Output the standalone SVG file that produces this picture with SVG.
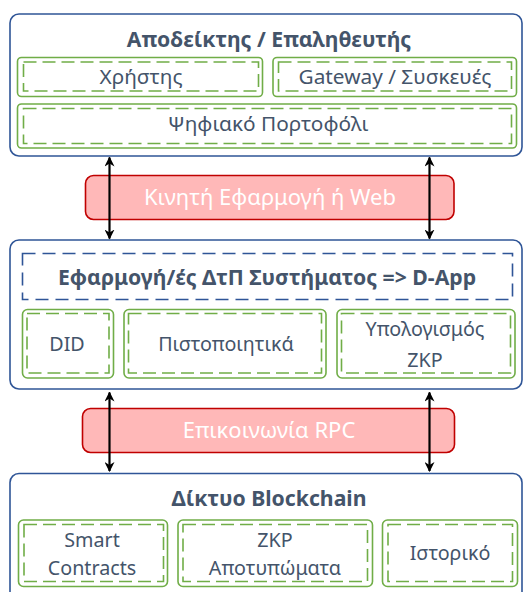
<svg xmlns="http://www.w3.org/2000/svg" width="523" height="592" viewBox="0 0 523 592">
  <style>
    .layer { fill: #ffffff; stroke: #2f5597; stroke-width: 1.6; }
    .card { fill: #ffffff; stroke: #70ad47; stroke-width: 1.6; }
    .dash { fill: none; stroke: #70ad47; stroke-width: 1.6; stroke-dasharray: 13 6; }
    .bluedash { fill: none; stroke: #2f5597; stroke-width: 1.6; stroke-dasharray: 13 7; }
    .band { fill: #ffb8b8; stroke: #c00000; stroke-width: 1.6; }
    .title { font-family: "Noto Sans", "Open Sans", sans-serif; font-weight: bold; font-size: 21.2px; fill: #44546a; text-anchor: middle; }
    .item { font-family: "Noto Sans", "Open Sans", sans-serif; font-size: 19.7px; fill: #44546a; text-anchor: middle; }
    .item.big { font-size: 20.8px; }
    .bandtext { font-family: "Noto Sans", "Open Sans", sans-serif; font-size: 22px; fill: #ffffff; text-anchor: middle; }
    .link { stroke: #000000; stroke-width: 2.2; fill: none; marker-start: url(#head); marker-end: url(#head); }
  </style>
  <defs>
    <marker id="head" viewBox="0 0 10 10" refX="9" refY="5" markerWidth="10" markerHeight="10" markerUnits="userSpaceOnUse" orient="auto-start-reverse">
      <path d="M0,0 L10,5 L0,10 L3,5 z" fill="#000000"/>
    </marker>
  </defs>

  <!-- Prover / verifier layer -->
  <g id="prover">
    <rect class="layer" x="10" y="14" width="512" height="142" rx="9"/>
    <text class="title" x="269" y="47">Αποδείκτης / Επαληθευτής</text>
  </g>
  <g id="user">
    <rect class="card" x="17.5" y="57.5" width="245" height="39" rx="4"/>
    <rect class="dash" x="23.5" y="62" width="235" height="29"/>
    <text class="item big" x="141" y="84">Χρήστης</text>
  </g>
  <g id="gateway">
    <rect class="card" x="273" y="57.5" width="243.5" height="39" rx="4"/>
    <rect class="dash" x="278.5" y="62" width="233" height="29"/>
    <text class="item big" x="395" y="84">Gateway / Συσκευές</text>
  </g>
  <g id="wallet">
    <rect class="card" x="17.5" y="104" width="499" height="44" rx="4"/>
    <rect class="dash" x="23.5" y="108.5" width="488" height="35"/>
    <text class="item big" x="268" y="131">Ψηφιακό Πορτοφόλι</text>
  </g>

  <!-- Client channel -->
  <g id="mobile-web">
    <rect class="band" x="85.5" y="175.5" width="368.5" height="44" rx="8"/>
    <text class="bandtext" x="270" y="205">Κινητή Εφαρμογή ή Web</text>
  </g>

  <!-- Application layer -->
  <g id="dapp">
    <rect class="layer" x="10" y="240" width="512" height="149" rx="9"/>
    <rect class="bluedash" x="22.5" y="253.5" width="490" height="46"/>
    <text class="title" x="267" y="285">Εφαρμογή/ές ΔτΠ Συστήματος =&gt; D-App</text>
  </g>
  <g id="did">
    <rect class="card" x="22.5" y="309.5" width="91" height="68.5" rx="5"/>
    <rect class="dash" x="27" y="313.5" width="82" height="59.5"/>
    <text class="item" x="67" y="351">DID</text>
  </g>
  <g id="credentials">
    <rect class="card" x="124" y="309.5" width="202" height="68.5" rx="5"/>
    <rect class="dash" x="128.5" y="313.5" width="193" height="59.5"/>
    <text class="item" x="226" y="351">Πιστοποιητικά</text>
  </g>
  <g id="zkp-compute">
    <rect class="card" x="337" y="309.5" width="178" height="68.5" rx="5"/>
    <rect class="dash" x="341.5" y="313.5" width="169" height="59.5"/>
    <text class="item" x="425" y="336">Υπολογισμός</text>
    <text class="item" x="425" y="367">ZKP</text>
  </g>

  <!-- RPC channel -->
  <g id="rpc">
    <rect class="band" x="82.5" y="408.5" width="372" height="44" rx="8"/>
    <text class="bandtext" x="269" y="438">Επικοινωνία RPC</text>
  </g>

  <!-- Blockchain layer -->
  <g id="blockchain">
    <rect class="layer" x="10" y="473.5" width="512" height="140" rx="9"/>
    <text class="title" x="269" y="506">Δίκτυο Blockchain</text>
  </g>
  <g id="smart-contracts">
    <rect class="card" x="18.5" y="520" width="149" height="66.5" rx="5"/>
    <rect class="dash" x="24" y="524.5" width="139.5" height="57"/>
    <text class="item" x="92" y="547">Smart</text>
    <text class="item" x="92" y="575">Contracts</text>
  </g>
  <g id="zkp-prints">
    <rect class="card" x="178" y="520" width="194.5" height="66.5" rx="5"/>
    <rect class="dash" x="183" y="524.5" width="184.5" height="57"/>
    <text class="item" x="275" y="547">ZKP</text>
    <text class="item" x="275" y="575">Αποτυπώματα</text>
  </g>
  <g id="history">
    <rect class="card" x="382.5" y="520" width="135" height="66.5" rx="5"/>
    <rect class="dash" x="388" y="524.5" width="124.5" height="57"/>
    <text class="item" x="450" y="560">Ιστορικό</text>
  </g>

  <!-- Two-way links between layers -->
  <g id="connectors">
    <line class="link" x1="109.5" y1="157.5" x2="109.5" y2="238.5"/>
    <line class="link" x1="429.5" y1="157.5" x2="429.5" y2="238.5"/>
    <line class="link" x1="109.5" y1="392.5" x2="109.5" y2="471"/>
    <line class="link" x1="429.5" y1="392.5" x2="429.5" y2="471"/>
  </g>
</svg>
